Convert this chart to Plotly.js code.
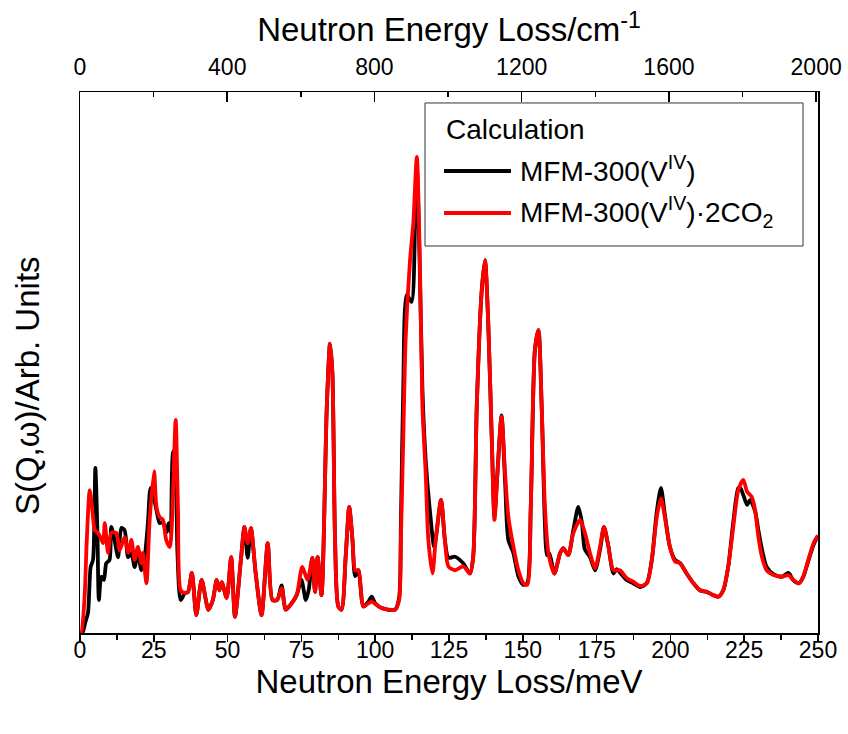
<!DOCTYPE html>
<html>
<head>
<meta charset="utf-8">
<script src="https://cdn.plot.ly/plotly-3.0.1.min.js"></script>
<style>html,body{margin:0;padding:0;background:#fff;}#chart{width:848px;height:734px;}</style>
</head>
<body>
<div id="chart"></div>
<script>
// Energy (meV) and intensity (arbitrary units) for each calculated spectrum
const energyBare = [0,0.8,1.8,2.7,3.6,4.4,5.2,5.9,6.4,7.2,8.1,8.9,10.0,10.6,11.7,12.9,14.0,15.1,16.3,17.4,18.5,19.6,20.8,21.9,23.0,23.9,24.7,25.9,27.0,28.1,29.2,30.0,30.7,31.5,32.1,33.0,34.1,35.5,36.6,37.9,39.4,41.2,43.5,45.0,46.3,47.2,48.0,49.7,51.2,52.5,54.5,55.7,56.8,57.9,59.5,61.5,63.6,65.2,66.8,68.3,69.7,71.7,73.4,75.0,76.5,77.5,78.7,79.6,80.5,81.8,83.6,84.7,85.5,86.4,87.5,88.6,90.0,91.2,92.3,93.2,94.3,96.0,97.7,98.8,100.0,102.2,106.7,108.1,108.7,109.5,110.7,112.3,113.5,114.1,115.0,116.0,117.1,118.6,120.0,122.3,123.6,124.8,127.0,129.8,132.1,133.2,134.4,136.1,137.2,138.3,139.5,140.4,141.4,142.8,144.0,145.1,146.8,148.5,150.2,151.5,152.7,154.1,155.3,156.4,157.5,158.2,159.0,160.7,162.6,163.7,165.4,167.1,168.8,170.0,171.0,172.8,174.5,176.2,177.5,179.0,180.7,181.8,182.9,185.2,187.4,189.7,192.0,193.7,195.4,196.8,198.1,199.8,201.6,203.3,205.5,207.8,210.0,212.3,214.5,216.2,217.9,219.6,221.3,223.0,223.7,224.7,226.0,227.0,228.7,229.8,231.0,232.6,234.9,237.7,240.0,241.6,243.6,245.0,246.7,248.5,250.0];
const intensityBare = [0,0,2.0,3.7,12.2,13.5,30.5,18.5,6.1,10.4,9.8,12.9,13.5,19.6,17.2,14.0,19.4,19.0,14.0,14.8,12.2,14.8,11.6,14.0,20.3,26.8,25.9,22.7,20.3,20.5,18.5,20.3,18.5,33.3,33.8,15.0,6.1,7.4,7.6,11.1,3.3,9.8,4.3,6.1,9.8,7.9,9.4,6.5,14.0,3.0,13.5,19.6,13.9,19.4,11.1,3.3,16.6,6.1,6.1,8.8,4.3,5.5,7.0,9.8,6.1,8.0,13.9,7.6,14.0,7.0,41.8,53.5,48.0,17.2,4.9,4.3,14.1,23.3,17.2,10.5,11.6,4.9,5.8,6.7,5.5,4.6,4.3,6.5,20.0,45.0,62.5,61.2,75.7,86.5,70.0,45.0,32.0,22.2,15.9,24.6,17.2,13.9,14.1,12.9,11.0,14.1,41.8,63.4,68.9,57.2,35.7,21.5,29.5,40.2,28.0,17.2,14.8,10.5,8.9,9.2,23.3,52.3,56.0,41.8,20.0,14.4,14.7,11.0,14.7,15.7,14.4,19.0,23.3,20.5,15.5,14.0,11.6,15.5,19.6,16.0,11.0,11.8,11.2,9.8,9.2,8.5,9.2,13.5,22.5,26.8,22.0,16.0,13.5,12.9,11.0,9.2,7.9,7.6,7.0,6.7,7.9,12.3,20.5,26.8,26.8,25.5,23.7,24.6,22.5,19.0,15.5,12.2,10.9,10.4,11.1,9.8,9.2,10.4,13.3,16.3,18.0];

const energyCO2 = [0,0.4,1.5,2.3,3.3,4.2,5.0,6.1,7.0,7.8,8.4,9.5,10.6,12.3,13.4,15.1,16.3,17.4,18.5,19.6,20.8,21.3,22.5,23.6,25.1,25.9,27.0,28.1,29.2,30.4,31.2,32.4,33.2,34.1,35.5,36.6,37.9,39.4,41.2,43.5,45.0,46.3,47.2,48.0,49.7,51.2,52.5,54.5,55.7,56.8,57.9,59.5,61.5,63.6,65.2,66.8,68.3,69.7,71.7,73.4,75.3,77.1,78.7,79.6,80.5,81.8,83.6,84.7,85.5,86.4,87.5,88.6,90.0,91.2,92.3,93.2,94.3,96.0,97.7,98.8,100.5,102.2,106.7,108.1,108.7,109.5,110.3,111.8,112.9,114.1,115.2,116.0,117.1,118.0,119.4,120.5,122.3,123.6,124.8,127.0,129.8,132.1,133.2,134.4,136.1,137.2,138.3,139.5,140.4,141.4,142.8,144.0,145.1,146.8,148.5,150.2,151.5,152.7,154.1,155.3,156.4,157.5,158.7,160.7,162.6,163.7,165.4,167.1,169.4,171.1,172.8,174.5,176.2,177.5,179.0,180.7,182.9,185.2,187.4,189.7,192.0,193.7,195.4,196.8,198.1,199.8,201.6,203.3,205.5,207.8,210.0,212.3,214.5,216.2,217.9,219.6,221.3,223.0,224.7,226.0,227.5,228.7,229.8,231.0,232.6,234.9,237.7,240.0,241.6,243.6,245.0,246.7,248.5,250.0];
const intensityCO2 = [0,0,6.1,17.2,26.4,22.7,19.0,18.5,17.6,16.6,20.3,14.8,18.5,18.5,15.3,17.7,14.8,17.2,13.5,15.9,12.9,14.8,9.2,20.9,29.9,23.3,21.4,20.9,17.2,15.9,20.9,39.4,22.7,7.9,7.4,7.6,11.1,3.3,9.8,4.3,6.1,9.8,7.9,9.4,6.5,14.0,3.0,13.5,19.6,16.6,19.4,11.1,3.3,16.6,6.1,6.1,8.3,4.3,5.5,7.0,12.2,9.8,13.9,7.6,14.0,7.0,41.8,53.5,48.0,17.2,4.9,4.3,14.1,23.3,17.2,11.6,11.6,4.9,5.5,5.8,5.2,4.6,4.3,6.1,17.2,35.7,54.2,68.9,75.7,88.0,66.5,41.8,29.5,17.2,11.0,17.2,24.6,17.2,12.3,11.6,12.3,11.0,14.1,41.8,63.4,68.9,57.2,35.7,20.9,29.5,40.0,29.5,21.5,16.0,11.6,9.2,8.9,23.3,52.3,56.0,41.8,23.3,14.7,11.0,14.7,15.7,14.4,18.4,20.9,18.4,14.7,12.0,16.0,19.6,16.0,11.6,11.6,10.1,9.5,8.7,9.2,13.5,21.5,24.9,21.5,16.0,13.2,12.9,11.0,9.2,7.9,7.6,7.0,6.7,7.9,12.3,19.6,26.4,28.3,26.1,25.2,22.7,17.8,14.1,11.6,10.7,10.4,10.7,9.8,9.2,10.4,13.5,16.6,18.0];

const bottomTicks = [0,25,50,75,100,125,150,175,200,225,250];
const topTicks = [0,400,800,1200,1600,2000];

const seriesNames = ['MFM-300(V<sup>IV</sup>)', 'MFM-300(V<sup>IV</sup>)·2CO<sub>2</sub>'];
const legendTitle = 'Calculation';

const FONT = 'Liberation Sans, Arial, sans-serif';

const traces = [
  {x: energyBare, y: intensityBare, type: 'scatter', mode: 'lines', name: seriesNames[0],
   line: {color: '#000000', width: 3.8, shape: 'spline', smoothing: 0.7}, showlegend: false, hoverinfo: 'x+y'},
  {x: energyCO2, y: intensityCO2, type: 'scatter', mode: 'lines', name: seriesNames[1],
   line: {color: '#ff0000', width: 3.8, shape: 'spline', smoothing: 0.7}, showlegend: false, hoverinfo: 'x+y'},
  {x: [topTicks[0], topTicks[topTicks.length-1]], y: [null, null], xaxis: 'x2', yaxis: 'y',
   type: 'scatter', mode: 'lines', showlegend: false, hoverinfo: 'skip'}
];

// legend box drawn in paper coordinates
const lgX0 = 0.4675, lgX1 = 0.9797, lgY0 = 0.7153, lgY1 = 0.9797;
const layout = {
  width: 848, height: 734,
  margin: {l: 80, r: 30, t: 92, b: 101, pad: 0},
  paper_bgcolor: '#ffffff', plot_bgcolor: '#ffffff',
  font: {family: FONT, color: '#000', size: 23},
  xaxis: {
    range: [0, 250], tickvals: bottomTicks, ticktext: bottomTicks.map(String),
    ticks: 'outside', ticklen: 7, tickwidth: 1.5, tickcolor: '#000',
    minor: {dtick: 12.5, tick0: 0, ticks: 'outside', ticklen: 5, tickwidth: 1.5, tickcolor: '#000'},
    showline: true, linecolor: '#000', linewidth: 1.5, showgrid: false, zeroline: false,
    tickfont: {family: FONT, size: 23, color: '#000'}, ticklabelstandoff: -11,
    title: {text: 'Neutron Energy Loss/meV', font: {family: FONT, size: 33, color: '#000'}, standoff: 6}
  },
  xaxis2: {
    overlaying: 'x', side: 'top', anchor: 'y', range: [0, 2005],
    tickvals: topTicks, ticktext: topTicks.map(String),
    ticks: 'inside', ticklen: 10, tickwidth: 1.5, tickcolor: '#000',
    minor: {dtick: 200, tick0: 0, ticks: 'inside', ticklen: 5, tickwidth: 1.5, tickcolor: '#000'},
    showline: true, linecolor: '#000', linewidth: 1.5, showgrid: false, zeroline: false,
    tickfont: {family: FONT, size: 23, color: '#000'}, ticklabelstandoff: 6,
    title: {text: 'Neutron Energy Loss/cm<sup>-1</sup>', font: {family: FONT, size: 33, color: '#000'}, standoff: 2}
  },
  yaxis: {
    range: [0, 100], showticklabels: false, ticks: '', showgrid: false, zeroline: false,
    showline: true, linecolor: '#000', linewidth: 1.5, mirror: true
  },
  shapes: [
    {type: 'rect', xref: 'paper', yref: 'paper', x0: lgX0, x1: lgX1, y0: lgY0, y1: lgY1,
     line: {color: '#333', width: 1}, fillcolor: '#ffffff', layer: 'above'},
    {type: 'line', xref: 'paper', yref: 'paper', x0: 0.4932, x1: 0.5840, y0: 0.854, y1: 0.854,
     line: {color: '#000000', width: 3.8}, layer: 'above'},
    {type: 'line', xref: 'paper', yref: 'paper', x0: 0.4932, x1: 0.5840, y0: 0.7763, y1: 0.7763,
     line: {color: '#ff0000', width: 3.8}, layer: 'above'}
  ],
  annotations: [
    {xref: 'paper', yref: 'paper', x: 0.4932, y: 0.9298, xanchor: 'left', yanchor: 'middle',
     text: legendTitle, showarrow: false, font: {family: FONT, size: 28, color: '#000'}},
    {xref: 'paper', yref: 'paper', x: 0.594, y: 0.858, xanchor: 'left', yanchor: 'middle',
     text: seriesNames[0], showarrow: false, font: {family: FONT, size: 28, color: '#000'}},
    {xref: 'paper', yref: 'paper', x: 0.594, y: 0.778, xanchor: 'left', yanchor: 'middle',
     text: seriesNames[1], showarrow: false, font: {family: FONT, size: 28, color: '#000'}},
    {xref: 'paper', yref: 'paper', x: -0.072, y: 0.458, xanchor: 'center', yanchor: 'middle', textangle: -90,
     text: 'S(Q,ω)/Arb. Units', showarrow: false, font: {family: FONT, size: 33, color: '#000'}}
  ]
};

Plotly.newPlot('chart', traces, layout, {displayModeBar: false, staticPlot: true});
</script>
</body>
</html>
